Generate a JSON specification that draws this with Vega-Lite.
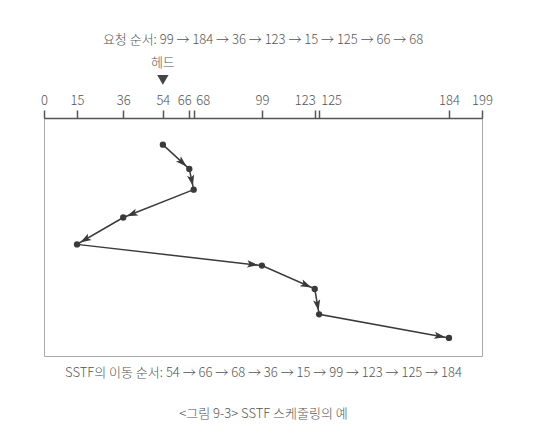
{
  "$schema": "https://vega.github.io/schema/vega-lite/v6.json",
  "width": 438,
  "height": 238,
  "autosize": {"type": "none"},
  "padding": {"left": 44, "top": 118, "right": 73, "bottom": 92},
  "background": "white",
  "config": {
    "view": {"stroke": "#aaaaaa", "strokeWidth": 1},
    "font": "Noto Sans CJK KR",
    "title": {"font": "Noto Sans CJK KR", "fontSize": 13, "fontWeight": 300, "color": "#555555"},
    "axis": {"labelFont": "Noto Sans CJK KR", "titleFont": "Noto Sans CJK KR"}
  },
  "title": {"text": "요청 순서: 99 → 184 → 36 → 123 → 15 → 125 → 66 → 68", "anchor": "middle", "offset": 10},
  "datasets": {
    "path": [
      {"seq": 0, "cyl": 54, "row": 1.12},
      {"seq": 1, "cyl": 66, "row": 2.14},
      {"seq": 2, "cyl": 68, "row": 3.01},
      {"seq": 3, "cyl": 36, "row": 4.18},
      {"seq": 4, "cyl": 15, "row": 5.31},
      {"seq": 5, "cyl": 99, "row": 6.2},
      {"seq": 6, "cyl": 123, "row": 7.18},
      {"seq": 7, "cyl": 125, "row": 8.25},
      {"seq": 8, "cyl": 184, "row": 9.24}
    ],
    "head": [{"cyl": 54, "label": "헤드"}]
  },
  "resolve": {"axis": {"x": "independent"}},
  "layer": [
    {
      "data": {"name": "path"},
      "mark": {"type": "line", "color": "#3a3a3a", "strokeWidth": 1.5},
      "encoding": {
        "x": {
          "field": "cyl", "type": "quantitative",
          "scale": {"domain": [0, 199], "nice": false, "zero": true},
          "axis": {
            "orient": "top", "title": null, "grid": false,
            "values": [0, 15, 36, 54, 66, 68, 99, 123, 125, 184, 199],
            "labelFontSize": 13, "labelFontWeight": 300, "labelColor": "#555555", "labelPadding": 3,
            "labelFlush": false, "labelOverlap": false,
            "labelOffset": {
              "condition": [
                {"test": "datum.value == 66", "value": -5},
                {"test": "datum.value == 68", "value": 9},
                {"test": "datum.value == 123", "value": -10},
                {"test": "datum.value == 125", "value": 12}
              ],
              "value": 0
            },
            "tickSize": 8, "tickColor": "#555555", "tickWidth": 1.5,
            "domainColor": "#555555", "domainWidth": 1.5
          }
        },
        "y": {
          "field": "row", "type": "quantitative",
          "scale": {"domain": [0, 10], "reverse": true, "nice": false, "zero": true},
          "axis": null
        },
        "order": {"field": "seq", "type": "quantitative"}
      }
    },
    {
      "data": {"name": "path"},
      "mark": {"type": "point", "filled": true, "color": "#3a3a3a", "size": 40, "opacity": 1},
      "encoding": {
        "x": {
          "field": "cyl", "type": "quantitative",
          "axis": {
            "orient": "bottom", "labels": false, "ticks": false, "domain": false, "grid": false,
            "title": ["SSTF의 이동 순서: 54 → 66 → 68 → 36 → 15 → 99 → 123 → 125 → 184", "<그림 9-3> SSTF 스케줄링의 예"],
            "titleFontSize": 13, "titleFontWeight": 300, "titleColor": "#555555",
            "titlePadding": 10, "titleLineHeight": 41
          }
        },
        "y": {"field": "row", "type": "quantitative"}
      }
    },
    {
      "data": {"name": "path"},
      "transform": [
        {"window": [{"op": "lag", "field": "cyl", "as": "pcyl"}, {"op": "lag", "field": "row", "as": "prow"}], "sort": [{"field": "seq"}]},
        {"filter": "datum.pcyl != null"},
        {"calculate": "atan2((datum.cyl - datum.pcyl) * 438 / 199, -(datum.row - datum.prow) * 23.8) * 180 / PI", "as": "ang"}
      ],
      "mark": {"type": "point", "filled": true, "color": "#3a3a3a", "size": 64, "opacity": 1, "shape": "M0,0.9L-0.9,3.7L0,3.1L0.9,3.7Z"},
      "encoding": {
        "x": {"field": "cyl", "type": "quantitative", "axis": null},
        "y": {"field": "row", "type": "quantitative"},
        "angle": {"field": "ang", "type": "quantitative", "scale": null}
      }
    },
    {
      "data": {"name": "head"},
      "mark": {"type": "point", "filled": true, "color": "#444444", "size": 130, "opacity": 1, "shape": "triangle-down"},
      "encoding": {
        "x": {"field": "cyl", "type": "quantitative", "axis": null},
        "y": {"datum": -1.6}
      }
    },
    {
      "data": {"name": "head"},
      "mark": {"type": "text", "fontSize": 13, "fontWeight": 300, "color": "#555555", "baseline": "middle", "align": "center"},
      "encoding": {
        "x": {"field": "cyl", "type": "quantitative", "axis": null},
        "y": {"datum": -2.3},
        "text": {"field": "label"}
      }
    }
  ]
}
